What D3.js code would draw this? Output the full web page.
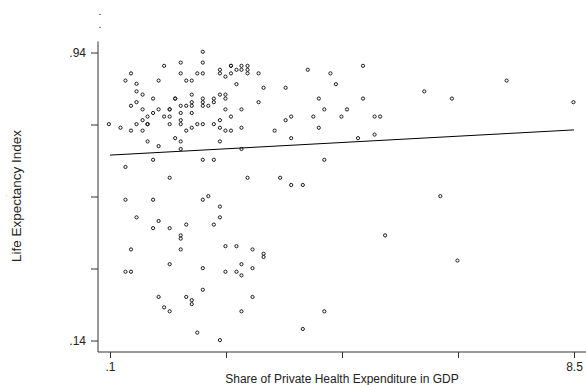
<!DOCTYPE html>
<html>
<head>
<meta charset="utf-8">
<script src="https://cdn.jsdelivr.net/npm/d3@7"></script>
<style>
  body { margin: 0; background: #fff; }
  svg { display: block; font-family: "Liberation Sans", Arial, sans-serif; }
</style>
</head>
<body>
<svg id="chart"></svg>
<script>
// share of private health expenditure in GDP (x) vs life expectancy index (y)
const shareGdp = [
  1.78, 1.08, 1.38, 1.78, 0.48, 1.38, 1.68, 1.78, 0.38, 0.98, 1.48, 1.58,
  0.58, 0.58, 0.69, 1.58, 0.88, 1.28, 1.28, 1.78, 0.58, 1.58, 1.78, 0.48,
  1.38, 1.48, 1.58, 1.78, 1.88, 0.69, 0.98, 1.18, 1.18, 0.88, 1.38, 1.58,
  0.78, 1.08, 1.18, 0.69, 1.38, 0.58, 0.78, 0.78, 1.18, 1.38, 1.68, 1.78,
  0.08, 0.29, 0.48, 0.69, 1.48, 1.58, 1.28, 0.78, 1.38, 0.98, 1.38, 0.88,
  1.78, 0.38, 1.18,
  2.29, 2.29, 2.48, 2.59, 2.09, 2.39, 2.48, 2.59, 3.68, 2.09, 2.29, 2.59,
  2.79, 2.19, 2.39, 2.88, 3.28, 2.09, 2.19, 1.98, 2.19, 1.98, 2.79, 2.19,
  2.48, 2.29, 3.38, 3.78, 2.09, 3.28, 1.98, 2.09, 2.48, 2.19, 2.29, 3.08,
  3.38, 2.09, 2.48, 1.98, 2.59, 3.18, 3.38, 3.59,
  3.88, 4.59, 4.89, 3.98, 4.09, 4.68, 4.19, 3.88, 4.68, 3.98, 4.39, 4.29,
  4.89, 4.99, 7.28, 5.79, 6.29, 8.49, 6.08, 5.08, 6.39,
  1.78, 1.88, 2.09, 2.09, 1.48, 1.98, 1.38, 1.38, 2.19, 2.39, 2.68, 0.38,
  0.88, 0.58, 0.98, 0.88, 1.18, 0.48, 1.38, 2.88, 2.88, 1.18, 1.78, 2.48,
  2.68, 0.38, 0.48, 2.19, 2.39, 2.48, 1.78, 0.98, 1.48, 1.58, 1.58, 2.68,
  1.08, 1.18, 2.48, 1.68, 2.09, 3.98, 3.59
];
const lifeExp = [
  0.942, 0.903, 0.912, 0.912, 0.882, 0.882, 0.882, 0.882, 0.862, 0.862, 0.862, 0.862,
  0.853, 0.832, 0.823, 0.823, 0.812, 0.812, 0.812, 0.812, 0.802, 0.802, 0.802, 0.792,
  0.792, 0.792, 0.792, 0.792, 0.792, 0.782, 0.782, 0.782, 0.782, 0.772, 0.772, 0.772,
  0.762, 0.762, 0.762, 0.752, 0.752, 0.741, 0.741, 0.741, 0.741, 0.741, 0.741, 0.741,
  0.741, 0.731, 0.723, 0.723, 0.723, 0.731, 0.702, 0.693, 0.693, 0.680, 0.672, 0.642,
  0.642, 0.622, 0.592,
  0.903, 0.903, 0.903, 0.903, 0.892, 0.892, 0.892, 0.892, 0.892, 0.882, 0.882, 0.882,
  0.882, 0.873, 0.852, 0.842, 0.842, 0.823, 0.823, 0.812, 0.812, 0.802, 0.802, 0.782,
  0.782, 0.762, 0.762, 0.762, 0.752, 0.752, 0.741, 0.731, 0.731, 0.723, 0.723, 0.723,
  0.702, 0.693, 0.672, 0.642, 0.592, 0.592, 0.572, 0.572,
  0.731, 0.702, 0.712, 0.642, 0.882, 0.903, 0.852, 0.812, 0.812, 0.782, 0.782, 0.762,
  0.762, 0.762, 0.862, 0.832, 0.812, 0.802, 0.541, 0.432, 0.362,
  0.531, 0.541, 0.512, 0.482, 0.462, 0.462, 0.432, 0.423, 0.402, 0.402, 0.393, 0.531,
  0.531, 0.482, 0.472, 0.452, 0.452, 0.393, 0.393, 0.381, 0.372, 0.352, 0.341, 0.352,
  0.341, 0.331, 0.331, 0.331, 0.331, 0.321, 0.281, 0.261, 0.261, 0.252, 0.241, 0.261,
  0.232, 0.221, 0.221, 0.162, 0.141, 0.221, 0.172
];
// fitted line endpoints
const fitX = [0.1, 8.5];
const fitY = [0.655, 0.725];

const xTicks = [0.1, 2.2, 4.3, 6.4, 8.5];
const xTickLabels = [".1", "", "", "", "8.5"];
const yTicks = [0.14, 0.34, 0.54, 0.74, 0.94];
const yTickLabels = [".14", "", "", "", ".94"];

const width = 586, height = 385;
const svg = d3.select("#chart").attr("width", width).attr("height", height);

const xScale = d3.scaleLinear().domain([0.1, 8.5]).range([110, 574]);
const yScale = d3.scaleLinear().domain([0.14, 0.94]).range([340.5, 52.5]);

const axisLeft = 98, axisBottom = 352;

// axes
const xAxis = d3.axisBottom(xScale)
  .tickValues(xTicks)
  .tickSize(6)
  .tickSizeOuter(0)
  .tickPadding(4)
  .tickFormat((d, i) => xTickLabels[i]);
const gx = svg.append("g")
  .attr("transform", `translate(0,${ axisBottom })`)
  .call(xAxis);
gx.select(".domain").remove();

const yAxis = d3.axisLeft(yScale)
  .tickValues(yTicks)
  .tickSize(7)
  .tickSizeOuter(0)
  .tickPadding(5)
  .tickFormat((d, i) => yTickLabels[i]);
const gy = svg.append("g")
  .attr("transform", `translate(${ axisLeft },0)`)
  .call(yAxis);
gy.select(".domain").remove();

svg.selectAll(".tick line").attr("stroke", "#333");
svg.selectAll(".tick text")
  .attr("fill", "#222")
  .style("font-size", "12px")
  .style("font-family", "'Liberation Sans', Arial, sans-serif");

// axis lines
svg.append("line")
  .attr("x1", axisLeft).attr("x2", width)
  .attr("y1", axisBottom).attr("y2", axisBottom)
  .attr("stroke", "#333").attr("stroke-width", 1);
svg.append("line")
  .attr("x1", axisLeft).attr("x2", axisLeft)
  .attr("y1", 41.5).attr("y2", axisBottom)
  .attr("stroke", "#333").attr("stroke-width", 1);

// scatter points
const g = svg.append("g");
g.selectAll("circle")
  .data(d3.range(shareGdp.length))
  .join("circle")
  .attr("cx", i => xScale(shareGdp[i]))
  .attr("cy", i => yScale(lifeExp[i]))
  .attr("r", 1.6)
  .attr("fill", "none")
  .attr("stroke", "#1a1a1a")
  .attr("stroke-width", 1);

// fitted line
const line = d3.line()
  .x(i => xScale(fitX[i]))
  .y(i => yScale(fitY[i]));
svg.append("path")
  .datum([0, 1])
  .attr("fill", "none")
  .attr("stroke", "#000")
  .attr("stroke-width", 1)
  .attr("d", line);

// titles
svg.append("text")
  .attr("x", 342).attr("y", 383)
  .attr("text-anchor", "middle")
  .attr("fill", "#222")
  .style("font-size", "12px")
  .text("Share of Private Health Expenditure in GDP");

svg.append("text")
  .attr("transform", "translate(21,196) rotate(-90)")
  .attr("text-anchor", "middle")
  .attr("fill", "#222")
  .style("font-size", "13.5px")
  .text("Life Expectancy Index");

// empty title placeholders
svg.append("text").attr("x", 100).attr("y", 15).attr("text-anchor", "middle")
  .style("font-size", "10px").text(".");
svg.append("text").attr("x", 100).attr("y", 28).attr("text-anchor", "middle")
  .style("font-size", "10px").text(".");
svg.append("text").attr("transform", "translate(7,196) rotate(-90)").attr("text-anchor", "middle")
  .style("font-size", "6px").text(".");
</script>
</body>
</html>
